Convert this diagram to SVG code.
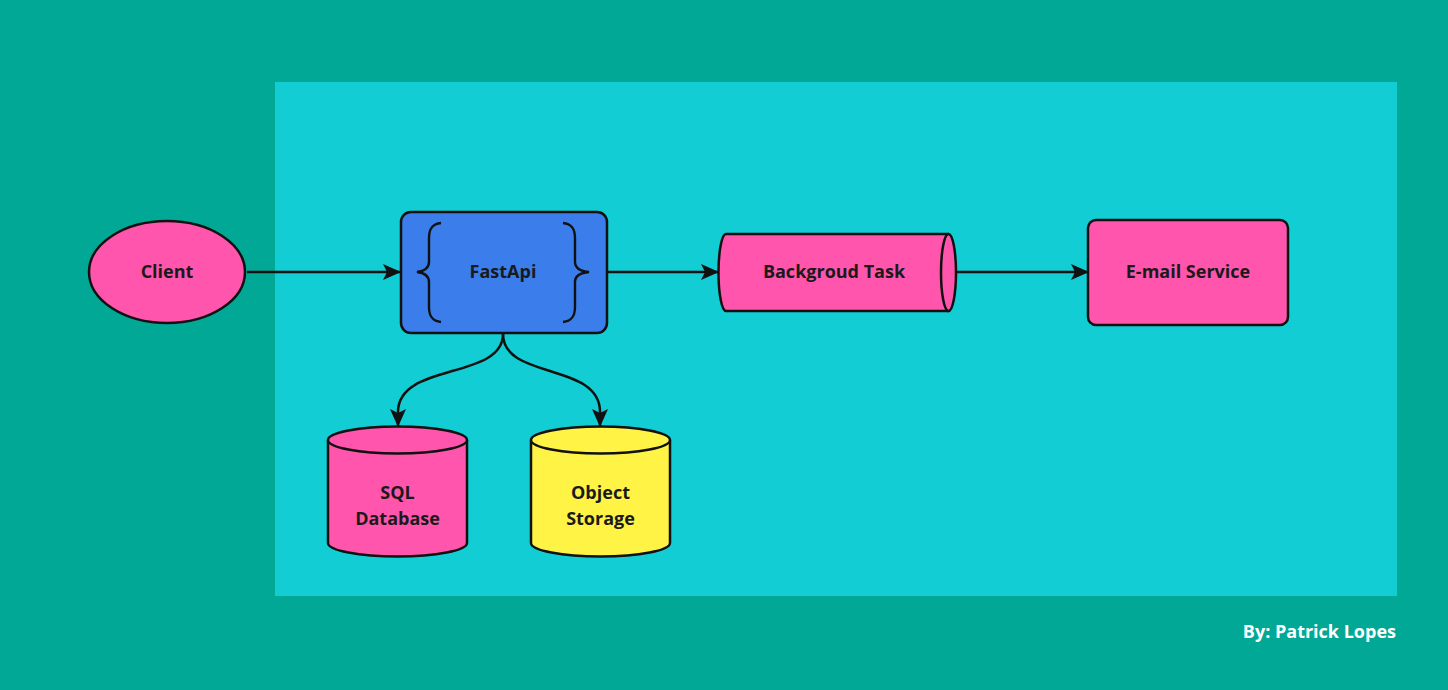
<svg xmlns="http://www.w3.org/2000/svg" width="1448" height="690" viewBox="0 0 1448 690">
<defs>
<marker id="ah" viewBox="0 0 18 16" refX="17" refY="8" markerWidth="18" markerHeight="16" markerUnits="userSpaceOnUse" orient="auto">
<path d="M0,0 L18,8 L0,16 L4,8 Z" fill="#111"/>
</marker>
</defs>
<style>
.n{stroke:#111;stroke-width:2.5}
.t{font-family:"Open Sans","Liberation Sans",sans-serif;font-weight:700;font-size:18px;fill:#1a1a1a;text-anchor:middle}
.c{fill:none;stroke:#111;stroke-width:2.5}
</style>
<rect width="1448" height="690" fill="#02A896"/>
<rect x="275" y="82" width="1122" height="514" fill="#13CDD4"/>
<g id="connectors">
<path class="c" d="M247,272 L400,272" marker-end="url(#ah)"/>
<path class="c" d="M607,272 L718,272" marker-end="url(#ah)"/>
<path class="c" d="M956,272 L1088,272" marker-end="url(#ah)"/>
<path class="c" d="M503,334 C503,380 398,362 398,412 L398,426" marker-end="url(#ah)"/>
<path class="c" d="M503,334 C503,380 600,362 600,412 L600,426" marker-end="url(#ah)"/>
</g>
<g id="client">
<ellipse class="n" cx="167" cy="272" rx="78" ry="51" fill="#FF55AD"/>
<text class="t" x="167" y="278">Client</text>
</g>
<g id="fastapi">
<rect class="n" x="401" y="212" width="206" height="121" rx="10" fill="#3A7DEB"/>
<path d="M441,223 C432,224 429,229 429,238 L429,262 C429,268 425,271 417,272 C425,273 429,276 429,282 L429,307 C429,316 432,321 441,322" fill="none" stroke="#111" stroke-width="2.4"/>
<path d="M563,223 C572,224 575,229 575,238 L575,262 C575,268 579,271 589,272 C579,273 575,276 575,282 L575,307 C575,316 572,321 563,322" fill="none" stroke="#111" stroke-width="2.4"/>
<text class="t" x="503" y="278">FastApi</text>
</g>
<g id="background-task">
<path class="n" d="M949,234 L726,234 A7.5,38.5 0 0 0 726,311 L949,311" fill="#FF55AD"/>
<ellipse class="n" cx="948.5" cy="272.5" rx="7.5" ry="38.5" fill="#FF55AD"/>
<text class="t" x="834" y="278">Backgroud Task</text>
</g>
<g id="email-service">
<rect class="n" x="1088" y="220" width="200" height="105" rx="8" fill="#FF55AD"/>
<text class="t" x="1188" y="278">E-mail Service</text>
</g>
<g id="sql-database">
<path class="n" d="M328,440 L328,543 A69.5,13.5 0 0 0 467,543 L467,440" fill="#FF55AD"/>
<ellipse class="n" cx="397.5" cy="440" rx="69.5" ry="13.5" fill="#FF55AD"/>
<text class="t" x="397.5" y="499">SQL</text>
<text class="t" x="397.5" y="525">Database</text>
</g>
<g id="object-storage">
<path class="n" d="M531,440 L531,543 A69.5,13.5 0 0 0 670,543 L670,440" fill="#FFF345"/>
<ellipse class="n" cx="600.5" cy="440" rx="69.5" ry="13.5" fill="#FFF345"/>
<text class="t" x="600.5" y="499">Object</text>
<text class="t" x="600.5" y="525">Storage</text>
</g>
<text x="1396" y="638" font-family="'Open Sans','Liberation Sans',sans-serif" font-weight="700" font-size="18" fill="#fff" text-anchor="end">By: Patrick Lopes</text>
</svg>
